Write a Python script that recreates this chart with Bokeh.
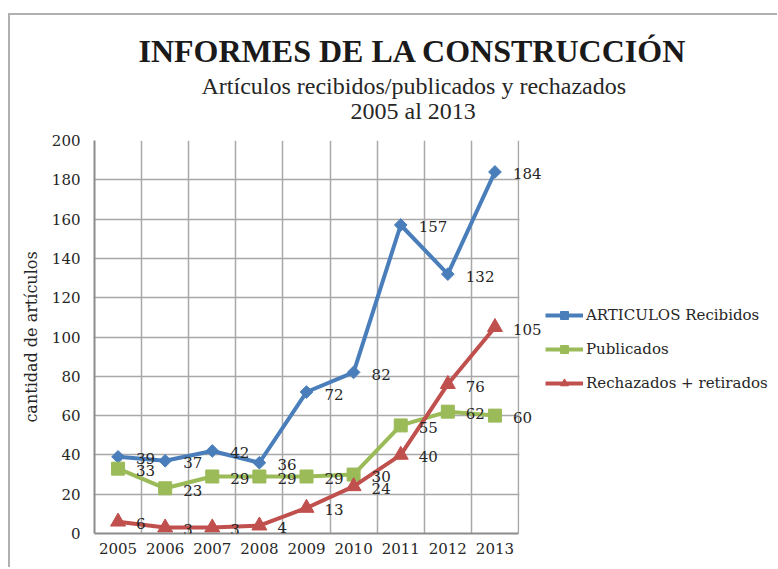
from bokeh.plotting import figure
from bokeh.models import (ColumnDataSource, LabelSet, Legend, LegendItem,
                          FixedTicker, Range1d, Title, BoxAnnotation)
from bokeh.embed import file_html
from bokeh.resources import INLINE
from bokeh.core.properties import value

# ---- data ----
years = [2005, 2006, 2007, 2008, 2009, 2010, 2011, 2012, 2013]
recibidos = [39, 37, 42, 36, 72, 82, 157, 132, 184]
publicados = [33, 23, 29, 29, 29, 30, 55, 62, 60]
rechazados = [6, 3, 3, 4, 13, 24, 40, 76, 105]
series_names = ["ARTICULOS Recibidos", "Publicados", "Rechazados + retirados"]
y_ticks = [0, 20, 40, 60, 80, 100, 120, 140, 160, 180, 200]
title_text = "INFORMES DE LA CONSTRUCCIÓN"
subtitle_1 = "Artículos recibidos/publicados y rechazados"
subtitle_2 = "2005 al 2013"
y_label = "cantidad de artículos"

TFONT = "Liberation Serif"
FONT = "DejaVu Serif"
TXT = "#262626"
BLUE, GREEN, RED = "#4a7ebb", "#9bbb59", "#c0504d"

# chart area spans 9 year slots of 424 px; frame continues right for the legend
FRAME_W, SLOT_W = 683, 424
x0 = years[0] - 0.5
x_end = x0 + len(years) * FRAME_W / SLOT_W

p = figure(frame_width=FRAME_W, frame_height=393,
           min_border_left=84, min_border_right=0,
           min_border_top=125, min_border_bottom=34,
           x_range=Range1d(x0, x_end), y_range=Range1d(0, 200),
           title_location=None,
           output_backend="svg", toolbar_location=None,
           styles={"border-top": "2px solid #b0b0b0",
                   "border-left": "2px solid #b0b0b0"})
p.margin = (13, 0, 0, 8)
p.outline_line_color = None
p.background_fill_color = "white"
p.border_fill_color = "white"

# axes
p.xaxis.ticker = FixedTicker(ticks=years)
p.yaxis.ticker = FixedTicker(ticks=y_ticks)
p.xaxis.bounds = (x0, years[-1] + 0.5)
for ax in (p.xaxis[0], p.yaxis[0]):
    ax.axis_line_color = "#8c8c8c"
    ax.axis_line_width = 2
    ax.major_tick_line_color = None
    ax.minor_tick_line_color = None
    ax.major_label_text_font = FONT
    ax.major_label_text_font_size = "15px"
    ax.major_label_text_color = TXT
p.xaxis.major_label_standoff = 3
p.yaxis.major_label_standoff = 8
p.yaxis.axis_label = y_label
p.yaxis.axis_label_text_font = FONT
p.yaxis.axis_label_text_font_size = "16px"
p.yaxis.axis_label_text_font_style = "normal"
p.yaxis.axis_label_text_color = TXT
p.yaxis.axis_label_standoff = 8

# grid at category boundaries
p.xgrid.ticker = FixedTicker(ticks=[y - 0.5 for y in years] + [years[-1] + 0.5])
p.ygrid.ticker = FixedTicker(ticks=y_ticks)
for g in (p.xgrid[0], p.ygrid[0]):
    g.grid_line_color = "#a8a8a8"
    g.grid_line_width = 1.5

# blank out the grid beyond the last year slot (legend area)
p.add_layout(BoxAnnotation(left=years[-1] + 0.52, fill_color="white", fill_alpha=1.0,
                           line_color=None, level="underlay"))

items = []
specs = [(recibidos, BLUE, "square", 9, 0.785398),
         (publicados, GREEN, "square", 13, 0.0),
         (rechazados, RED, "triangle", 15, 0.0)]
for name, (vals, col, marker, size, ang) in zip(series_names, specs):
    src = ColumnDataSource(dict(x=years, y=vals, t=[str(v) for v in vals]))
    lr = p.line("x", "y", source=src, line_color=col, line_width=4)
    sr = p.scatter("x", "y", source=src, marker=marker, size=size, angle=ang,
                   fill_color=col, line_color=col)
    items.append(LegendItem(label=name, renderers=[lr, sr]))
    p.add_layout(LabelSet(x="x", y="y", text="t", source=src, x_offset=18, y_offset=-2,
                          text_baseline="middle", text_align="left",
                          text_font=value(FONT), text_font_size=value("15px"),
                          text_color=TXT))

legend = Legend(items=items, location=(451, 140), border_line_color=None,
                background_fill_alpha=0, label_text_font=FONT,
                label_text_font_size="15px", label_text_color=TXT,
                glyph_width=38, glyph_height=20, label_height=20,
                label_standoff=3, spacing=14, padding=0, margin=0)
p.add_layout(legend)

# titles (first added = closest to the chart)
p.add_layout(Title(text=" ", text_font_size="1px", standoff=14), "above")
p.add_layout(Title(text=subtitle_2, align="left", offset=256, vertical_align="bottom",
                   text_font=TFONT, text_font_size="24px", text_font_style="normal",
                   text_color=TXT, standoff=0), "above")
p.add_layout(Title(text=subtitle_1, align="left", offset=107, vertical_align="bottom",
                   text_font=TFONT, text_font_size="24px", text_font_style="normal",
                   text_color=TXT, standoff=-7), "above")
p.add_layout(Title(text=title_text, align="left", offset=44, vertical_align="bottom",
                   text_font=TFONT, text_font_size="32px", text_font_style="bold",
                   text_color="#1a1a1a", standoff=11), "above")

open("out.html", "w").write(file_html(p, INLINE))
